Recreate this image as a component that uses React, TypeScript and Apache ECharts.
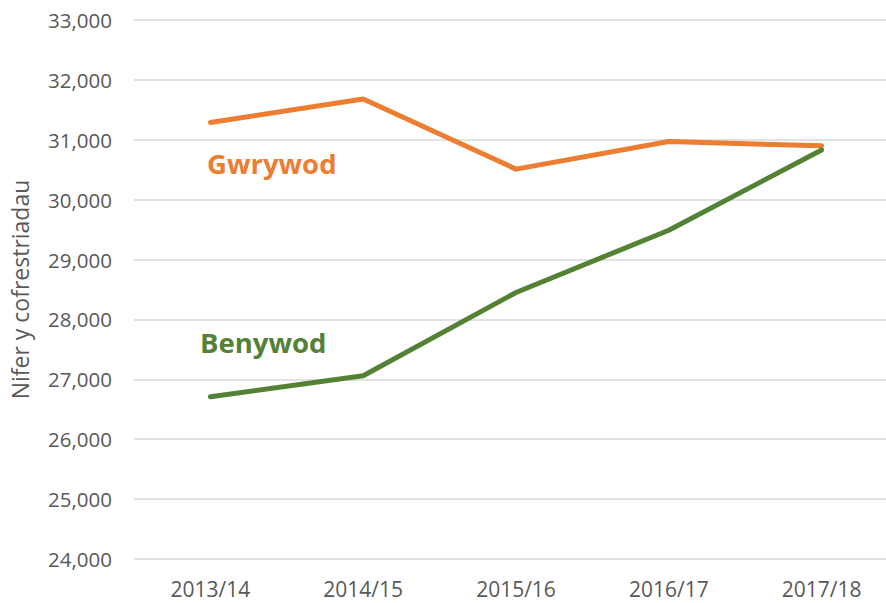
import React, { useEffect, useRef } from "react";
import * as echarts from "echarts";

const categories = ["2013/14", "2014/15", "2015/16", "2016/17", "2017/18"];
const gwrywod = [31290, 31680, 30510, 30970, 30900];
const benywod = [26710, 27060, 28450, 29490, 30830];
const yMin = 24000;
const yMax = 33000;
const yInterval = 1000;
const yAxisName = "Nifer y cofrestriadau";
const labelMale = "Gwrywod";
const labelFemale = "Benywod";

const ORANGE = "#ED7D31";
const GREEN = "#548235";
const FONT = "'Open Sans', sans-serif";

export default function App() {
  const ref = useRef<HTMLDivElement>(null);
  useEffect(() => {
    if (!ref.current) return;
    const chart = echarts.init(ref.current, null, { renderer: "svg" });
    chart.setOption({
      animation: false,
      backgroundColor: "#ffffff",
      grid: { left: 134, right: 0, top: 20, bottom: 44, containLabel: false },
      xAxis: {
        type: "category",
        data: categories,
        boundaryGap: true,
        axisLine: { show: false },
        axisTick: { show: false },
        axisLabel: { color: "#595959", fontSize: 21, fontFamily: FONT, margin: 19 },
      },
      yAxis: {
        type: "value",
        min: yMin,
        max: yMax,
        interval: yInterval,
        name: yAxisName,
        nameLocation: "middle",
        nameGap: 103,
        nameTextStyle: { color: "#595959", fontSize: 23, fontFamily: FONT },
        axisLine: { show: false },
        axisTick: { show: false },
        axisLabel: {
          color: "#595959",
          fontSize: 20.5,
          fontFamily: FONT,
          margin: 22,
          formatter: (v: number) => v.toLocaleString("en-US"),
        },
        splitLine: { lineStyle: { color: "#D9D9D9", width: 1.5 } },
      },
      series: [
        {
          name: labelMale,
          type: "line",
          data: gwrywod,
          symbol: "none",
          lineStyle: { color: ORANGE, width: 5, cap: "round", join: "round" },
        },
        {
          name: labelFemale,
          type: "line",
          data: benywod,
          symbol: "none",
          lineStyle: { color: GREEN, width: 5, cap: "round", join: "round" },
        },
      ],
      graphic: [
        {
          type: "text",
          left: 207,
          top: 149,
          style: { text: labelMale, fill: ORANGE, font: `bold 27.5px ${FONT}` },
        },
        {
          type: "text",
          left: 200,
          top: 328,
          style: { text: labelFemale, fill: GREEN, font: `bold 27.5px ${FONT}` },
        },
      ],
    });
    return () => chart.dispose();
  }, []);
  return (
    <div style={{ width: 886, height: 603, position: "absolute", left: 0, top: 0, overflow: "hidden" }}>
      <div ref={ref} style={{ width: 898, height: 603 }} />
    </div>
  );
}
